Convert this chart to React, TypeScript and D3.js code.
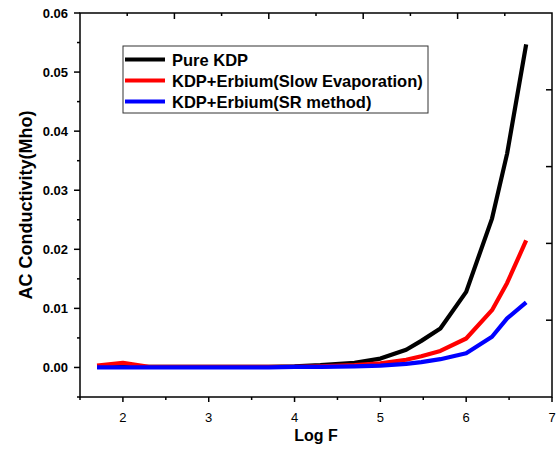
import React from "react";
import * as d3 from "d3";

const logF = [1.699, 2, 2.301, 2.699, 3, 3.301, 3.699, 4, 4.301, 4.699, 5, 5.301, 5.477, 5.699, 6, 6.301, 6.477, 6.699];
const pureKDP = [0.0001, 0.0001, 0.0001, 0.0001, 0.0001, 0.0001, 0.0001, 0.0002, 0.0004, 0.0008, 0.0015, 0.0030, 0.0045, 0.0066, 0.0128, 0.0252, 0.0362, 0.0547];
const slowEvap = [0.0003, 0.0008, 0.0001, 0.0001, 0.0001, 0.0001, 0.0001, 0.0001, 0.0002, 0.0004, 0.0007, 0.0013, 0.0019, 0.0028, 0.0049, 0.0097, 0.0143, 0.0215];
const srMethod = [0.0, 0.0, 0.0, 0.0, 0.0, 0.0, 0.0, 0.0001, 0.0001, 0.0002, 0.0003, 0.0006, 0.0009, 0.0014, 0.0024, 0.0052, 0.0083, 0.011];

const seriesNames = ["Pure KDP", "KDP+Erbium(Slow Evaporation)", "KDP+Erbium(SR method)"];
const seriesColors = ["#000000", "#ff0000", "#0000ff"];
const xMajorTicks = [2, 3, 4, 5, 6, 7];
const xMinorTicks = [1.5, 2.5, 3.5, 4.5, 5.5, 6.5];
const yMajorTicks = [0, 0.01, 0.02, 0.03, 0.04, 0.05, 0.06];
const yMinorTicks = [-0.005, 0.005, 0.015, 0.025, 0.035, 0.045, 0.055];
const topTicks = [1, 2, 3, 4, 5, 6, 7, 8, 9];
const rightTicks = [1, 2, 3, 4];

const FONT = "'Liberation Sans', Arial, sans-serif";

export default function App() {
  const L = 80, R = 552, T = 13, B = 397;
  const x = d3.scaleLinear().domain([1.5, 7]).range([L, R]);
  const y = d3.scaleLinear().domain([-0.005, 0.06]).range([B, T]);
  const xTop = d3.scaleLinear().domain([0, 10]).range([L, R]);
  const yRight = d3.scaleLinear().domain([0, 5]).range([T, B]);
  const data = [pureKDP, slowEvap, srMethod];
  const line = d3.line<number>().x((_, i) => x(logF[i])).y((d) => y(d));

  return (
    <svg width={557} height={454} style={{ position: "absolute", left: 0, top: 0 }} fontFamily={FONT}>
      <rect x={0} y={0} width={557} height={454} fill="#fff" />
      {data.map((s, i) => (
        <path key={i} d={line(s) || ""} fill="none" stroke={seriesColors[i]} strokeWidth={4.2} strokeLinejoin="round" />
      ))}
      <rect x={L} y={T} width={R - L} height={B - T} fill="none" stroke="#000" strokeWidth={1.5} />
      {xMajorTicks.map((t) => (
        <g key={"xm" + t}>
          <line x1={x(t)} x2={x(t)} y1={B} y2={B + 5} stroke="#000" strokeWidth={1.5} />
          <text x={x(t)} y={422} fontSize={13} textAnchor="middle">{t}</text>
        </g>
      ))}
      {xMinorTicks.map((t) => (
        <line key={"xn" + t} x1={x(t)} x2={x(t)} y1={B} y2={B + 3} stroke="#000" strokeWidth={1.5} />
      ))}
      {yMajorTicks.map((t) => (
        <g key={"ym" + t}>
          <line x1={L - 6} x2={L} y1={y(t)} y2={y(t)} stroke="#000" strokeWidth={1.5} />
          <text x={68} y={y(t) + 4.5} fontSize={13} fontWeight="bold" textAnchor="end">{t.toFixed(2)}</text>
        </g>
      ))}
      {yMinorTicks.map((t) => (
        <line key={"yn" + t} x1={L - 3} x2={L} y1={y(t)} y2={y(t)} stroke="#000" strokeWidth={1.5} />
      ))}
      {topTicks.map((t) => (
        <line key={"t" + t} x1={xTop(t)} x2={xTop(t)} y1={T} y2={T + (t % 2 === 0 ? 6 : 3)} stroke="#000" strokeWidth={1.5} />
      ))}
      {rightTicks.map((t) => (
        <line key={"r" + t} x1={R - 6} x2={R} y1={yRight(t)} y2={yRight(t)} stroke="#000" strokeWidth={1.5} />
      ))}
      <text x={(L + R) / 2} y={441} fontSize={16} fontWeight="bold" textAnchor="middle">Log F</text>
      <text transform={`translate(32, ${(T + B) / 2}) rotate(-90)`} fontSize={18} fontWeight="bold" textAnchor="middle">AC Conductivity(Mho)</text>
      <rect x={123} y={46} width={305} height={67} fill="#fff" stroke="#333" strokeWidth={1} />
      {seriesNames.map((n, i) => (
        <g key={n}>
          <line x1={125} x2={165} y1={59.5 + i * 21} y2={59.5 + i * 21} stroke={seriesColors[i]} strokeWidth={4.2} />
          <text x={172} y={59.5 + i * 21 + 6} fontSize={16.5} fontWeight="bold">{n}</text>
        </g>
      ))}
    </svg>
  );
}
